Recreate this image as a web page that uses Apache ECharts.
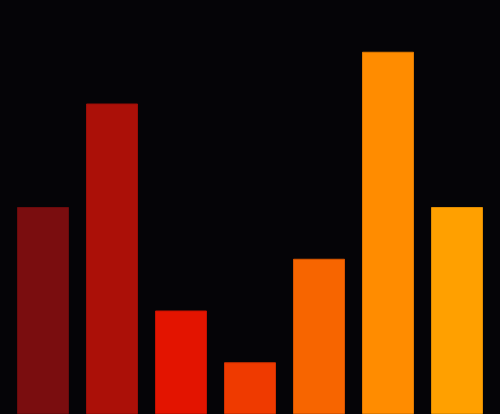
<!DOCTYPE html>
<html><head><meta charset="utf-8">
<script src="https://cdn.jsdelivr.net/npm/echarts@6/dist/echarts.min.js"></script>
<style>html,body{margin:0;padding:0;background:#050407;}#c{width:500px;height:414px;}</style>
</head><body><div id="c"></div>
<script>
const categories = ['A','B','C','D','E','F','G'];
const values = [4, 6, 2, 1, 3, 7, 4];
const colors = ['#7a0d0f','#ab1008','#e31400','#ef3a00','#f76500','#ff8c00','#ffa000'];
const borders = ['#6a0a0c','#9a0c06','#c41000','#d03000','#d85500','#e07a00','#e08c00'];
const chart = echarts.init(document.getElementById('c'));
chart.setOption({
  backgroundColor: '#050407',
  animation: false,
  grid: {left: 8.5, right: 8.5, top: 0, bottom: 0},
  xAxis: {type: 'category', data: categories, show: false},
  yAxis: {type: 'value', min: 0, max: 8, show: false},
  series: [{
    type: 'bar',
    barWidth: 52,
    data: values.map((v, i) => ({value: v, itemStyle: {color: colors[i], borderColor: borders[i], borderWidth: 1}}))
  }]
});
</script></body></html>
